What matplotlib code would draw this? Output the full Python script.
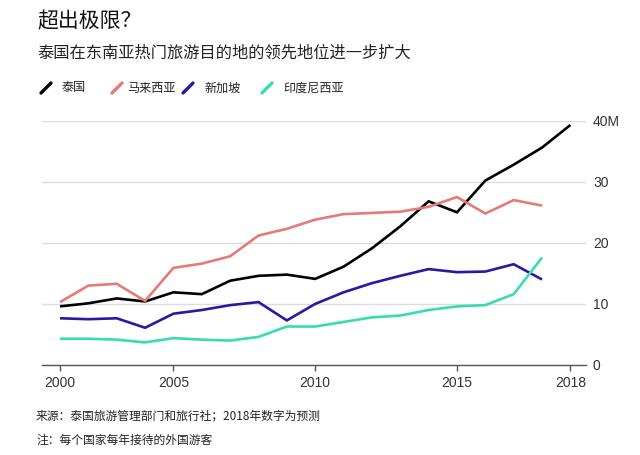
import matplotlib
matplotlib.use("Agg")
import matplotlib.pyplot as plt
from matplotlib.lines import Line2D

# ---- data (millions of foreign visitors) ----
years = list(range(2000, 2019))
thailand = [9.6, 10.1, 10.9, 10.4, 11.9, 11.6, 13.8, 14.6, 14.8, 14.1,
            16.1, 19.1, 22.7, 26.8, 25.0, 30.2, 32.8, 35.6, 39.3]
malaysia = [10.3, 13.0, 13.3, 10.5, 15.9, 16.6, 17.8, 21.2, 22.3, 23.8,
            24.7, 24.9, 25.1, 25.9, 27.5, 24.8, 27.0, 26.1]
singapore = [7.65, 7.5, 7.65, 6.1, 8.4, 9.0, 9.8, 10.3, 7.3, 10.0,
             11.9, 13.4, 14.6, 15.7, 15.2, 15.3, 16.5, 14.0]
indonesia = [4.3, 4.3, 4.15, 3.7, 4.4, 4.15, 4.0, 4.6, 6.3, 6.3,
             7.05, 7.8, 8.1, 9.0, 9.6, 9.8, 11.6, 17.6]

series_names = ["泰国", "马来西亚", "新加坡", "印度尼西亚"]
series_values = [thailand, malaysia, singapore, indonesia]
colors = ["#000000", "#e67a76", "#2c17a3", "#38dcae"]

# x tick positions and their labels as printed in the original chart
xtick_pos = [2000, 2004, 2009, 2014, 2018]
xtick_labels = ["2000", "2005", "2010", "2015", "2018"]
ytick_pos = [0, 10, 20, 30, 40]
ytick_labels = ["0", "10", "20", "30", "40M"]

title = "超出极限？"
subtitle = "泰国在东南亚热门旅游目的地的领先地位进一步扩大"
footer1 = "来源：泰国旅游管理部门和旅行社；2018年数字为预测"
footer2 = "注：每个国家每年接待的外国游客"

cjk = ["Noto Sans CJK SC", "DejaVu Sans"]
plt.rcParams["font.family"] = cjk

W, H = 640, 455
fig = plt.figure(figsize=(W / 100, H / 100), dpi=100)
fig.patch.set_facecolor("white")

left, right, bottom, top = 42, 586, 365, 120.7
ax = fig.add_axes([left / W, 1 - bottom / H, (right - left) / W, (bottom - top) / H])

px_per_year = (570.4 - 60) / 18
ax.set_xlim(2000 - (60 - left) / px_per_year, 2018 + (right - 570.4) / px_per_year)
ax.set_ylim(0, 40)

for name, vals, c in zip(series_names, series_values, colors):
    ax.plot(years[:len(vals)], vals, color=c, lw=1.9, solid_capstyle="butt",
            solid_joinstyle="miter", clip_on=False, zorder=3)

for s in ["left", "right", "top"]:
    ax.spines[s].set_visible(False)
ax.spines["bottom"].set_color("#555555")
ax.spines["bottom"].set_linewidth(1.0)

ax.set_yticks(ytick_pos)
ax.set_yticklabels(ytick_labels)
ax.yaxis.tick_right()
ax.tick_params(axis="y", length=0, pad=5, labelsize=10, labelcolor="#333333")
for lab in ax.get_yticklabels():
    lab.set_fontfamily(["Liberation Sans", "DejaVu Sans"])
ax.grid(axis="y", color="#dcdcdc", lw=1.0, zorder=0)
ax.set_axisbelow(True)

ax.set_xticks(xtick_pos)
ax.set_xticklabels(xtick_labels)
ax.tick_params(axis="x", length=4, width=1, color="#555555", pad=4,
               labelsize=10, labelcolor="#333333", direction="out")
for lab in ax.get_xticklabels():
    lab.set_fontfamily(["Liberation Sans", "DejaVu Sans"])

# titles
fig.text(37 / W, 1 - 21 / H, title, fontsize=15, va="center", ha="left", color="#111111")
fig.text(37 / W, 1 - 53 / H, subtitle, fontsize=11.7, va="center", ha="left", color="#222222")

# legend
leg_y = 88
leg_items = [(41, 62), (112, 127), (183, 205), (262, 283)]
for (ix, tx), name, c in zip(leg_items, series_names, colors):
    fig.add_artist(Line2D([ix / W, (ix + 10) / W], [1 - (leg_y + 5) / H, 1 - (leg_y - 5) / H],
                          color=c, lw=2.4, solid_capstyle="round", transform=fig.transFigure))
    fig.text(tx / W, 1 - leg_y / H, name, fontsize=8.7, va="center", ha="left", color="#222222")

# footer
fig.text(36 / W, 1 - 416 / H, footer1, fontsize=8.5, va="center", ha="left", color="#222222")
fig.text(36 / W, 1 - 440 / H, footer2, fontsize=8.5, va="center", ha="left", color="#222222")

fig.savefig("out.png", dpi=100, facecolor="white")
